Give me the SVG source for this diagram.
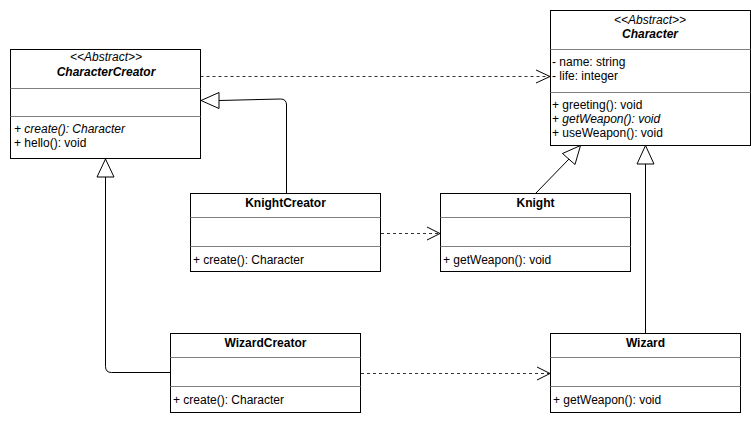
<svg xmlns="http://www.w3.org/2000/svg" width="751" height="424" viewBox="0 0 751 424">
<style>
text{font-family:"Liberation Sans",Arial,sans-serif;font-size:12px;fill:#000}
.t{font-weight:bold;text-anchor:middle}
.st{font-style:italic;text-anchor:middle}
.ab{font-weight:bold;font-style:italic;text-anchor:middle}
.i{font-style:italic}
.box{fill:#fff;stroke:#000;stroke-width:1}
.div{stroke:#808080;stroke-width:1}
.dep{fill:none;stroke:#333;stroke-width:1;stroke-dasharray:3 3}
.gen{fill:none;stroke:#000;stroke-width:1}
.tri{fill:#fff;stroke:#000;stroke-width:1}
.open{fill:none;stroke:#000;stroke-width:1}
</style>
<rect width="751" height="424" fill="#fff"/>
<g id="connectors">
  <!-- CharacterCreator -> Character dependency -->
  <path class="dep" d="M200.5,76.5 L549,76.5"/>
  <path class="open" d="M536,70 L550,76.5 L536,83"/>
  <!-- KnightCreator -> CharacterCreator generalization -->
  <path class="gen" d="M286.5,193 L286.5,105 Q286.5,99 280.5,99 L219,100.5"/>
  <path class="tri" d="M201,100.5 L219,92.5 L219,108.5 Z"/>
  <!-- WizardCreator -> CharacterCreator generalization -->
  <path class="gen" d="M170,372.5 L111.5,372.5 Q105.5,372.5 105.5,366.5 L105.5,177"/>
  <path class="tri" d="M105.5,159 L97,177 L114,177 Z"/>
  <!-- Knight -> Character generalization -->
  <path class="gen" d="M536,193 L569,159"/>
  <path class="tri" d="M580.5,145.5 L562.5,153.5 L575,164.5 Z"/>
  <!-- Wizard -> Character generalization -->
  <path class="gen" d="M645.5,333 L645.5,164"/>
  <path class="tri" d="M645.5,145.5 L637,164 L654,164 Z"/>
  <!-- KnightCreator -> Knight dependency -->
  <path class="dep" d="M381,233.5 L439,233.5"/>
  <path class="open" d="M427,227 L440,233.5 L427,240"/>
  <!-- WizardCreator -> Wizard dependency -->
  <path class="dep" d="M361,373.5 L549,373.5"/>
  <path class="open" d="M537,367 L550,373.5 L537,380"/>
</g>
<g id="CharacterCreator">
  <rect class="box" x="10.5" y="49.5" width="190" height="109"/>
  <line class="div" x1="10.5" y1="88.5" x2="200.5" y2="88.5"/>
  <line class="div" x1="10.5" y1="116.5" x2="200.5" y2="116.5"/>
  <text class="st" x="106" y="61">&lt;&lt;Abstract&gt;&gt;</text>
  <text class="ab" x="106" y="76">CharacterCreator</text>
  <text class="i" x="14" y="133">+ create(): Character</text>
  <text x="14" y="147">+ hello(): void</text>
</g>
<g id="Character">
  <rect class="box" x="550.5" y="10.5" width="200" height="135"/>
  <line class="div" x1="550.5" y1="49.5" x2="750.5" y2="49.5"/>
  <line class="div" x1="550.5" y1="92.5" x2="750.5" y2="92.5"/>
  <text class="st" x="650" y="24">&lt;&lt;Abstract&gt;&gt;</text>
  <text class="ab" x="650" y="38">Character</text>
  <text x="552" y="66">- name: string</text>
  <text x="552" y="80">- life: integer</text>
  <text x="552" y="109">+ greeting(): void</text>
  <text x="552" y="123"><tspan>+ </tspan><tspan class="i">getWeapon(): void</tspan></text>
  <text x="552" y="137">+ useWeapon(): void</text>
</g>
<g id="KnightCreator">
  <rect class="box" x="190.5" y="193.5" width="190" height="78"/>
  <line class="div" x1="190.5" y1="217.5" x2="380.5" y2="217.5"/>
  <line class="div" x1="190.5" y1="246.5" x2="380.5" y2="246.5"/>
  <text class="t" x="285.5" y="207">KnightCreator</text>
  <text x="193" y="264">+ create(): Character</text>
</g>
<g id="Knight">
  <rect class="box" x="440.5" y="193.5" width="190" height="78"/>
  <line class="div" x1="440.5" y1="217.5" x2="630.5" y2="217.5"/>
  <line class="div" x1="440.5" y1="246.5" x2="630.5" y2="246.5"/>
  <text class="t" x="535.5" y="207">Knight</text>
  <text x="443" y="264">+ getWeapon(): void</text>
</g>
<g id="WizardCreator">
  <rect class="box" x="170.5" y="333.5" width="190" height="79"/>
  <line class="div" x1="170.5" y1="357.5" x2="360.5" y2="357.5"/>
  <line class="div" x1="170.5" y1="386.5" x2="360.5" y2="386.5"/>
  <text class="t" x="265.5" y="347">WizardCreator</text>
  <text x="173" y="404">+ create(): Character</text>
</g>
<g id="Wizard">
  <rect class="box" x="550.5" y="333.5" width="190" height="79"/>
  <line class="div" x1="550.5" y1="357.5" x2="740.5" y2="357.5"/>
  <line class="div" x1="550.5" y1="386.5" x2="740.5" y2="386.5"/>
  <text class="t" x="645.5" y="347">Wizard</text>
  <text x="553" y="404">+ getWeapon(): void</text>
</g>
</svg>
